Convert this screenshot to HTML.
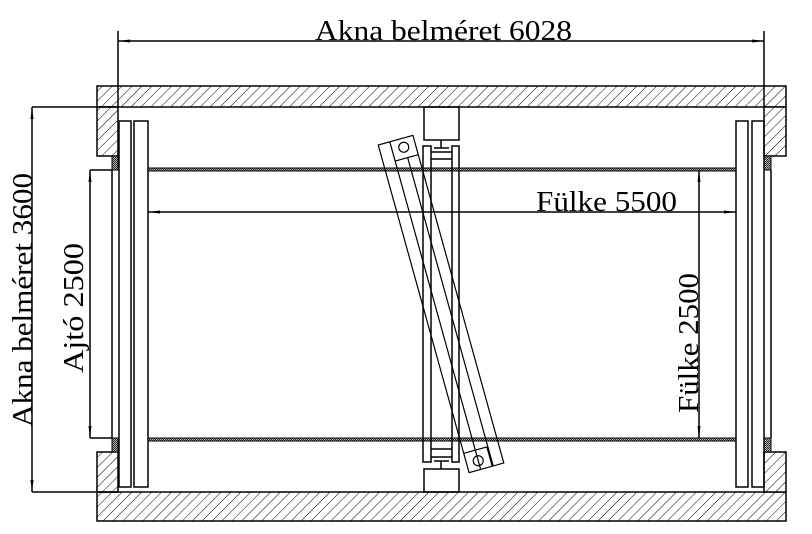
<!DOCTYPE html>
<html><head><meta charset="utf-8"><style>html,body{margin:0;padding:0;background:#fff}svg{display:block}text{font-family:"Liberation Serif",serif}</style></head>
<body>
<svg width="812" height="534" viewBox="0 0 812 534" xmlns="http://www.w3.org/2000/svg">
<defs>
<pattern id="h" width="7" height="7" patternUnits="userSpaceOnUse" patternTransform="rotate(45)">
<rect width="7" height="7" fill="#fff"/><line x1="0" y1="0" x2="0" y2="7" stroke="#000" stroke-width="1"/>
</pattern>
<pattern id="c" width="2" height="2" patternUnits="userSpaceOnUse">
<rect width="2" height="2" fill="#bbb"/><rect width="1" height="1" fill="#222"/><rect x="1" y="1" width="1" height="1" fill="#222"/>
</pattern>
</defs>
<g stroke="#000" stroke-width="1.5" fill="none">
<rect x="97" y="86" width="689" height="21" fill="url(#h)"/>
<rect x="97" y="492" width="689" height="29" fill="url(#h)"/>
<rect x="97" y="107" width="21" height="49" fill="url(#h)"/>
<rect x="764" y="107" width="22" height="49" fill="url(#h)"/>
<rect x="97" y="452" width="21" height="40" fill="url(#h)"/>
<rect x="764" y="452" width="22" height="40" fill="url(#h)"/>
<rect x="112" y="156" width="6" height="14" fill="url(#c)" stroke-width="1"/>
<rect x="764" y="156" width="7" height="14" fill="url(#c)" stroke-width="1"/>
<rect x="112" y="438" width="6" height="14" fill="url(#c)" stroke-width="1"/>
<rect x="764" y="438" width="7" height="14" fill="url(#c)" stroke-width="1"/>
<line x1="112" y1="170" x2="112" y2="438"/>
<line x1="771" y1="170" x2="771" y2="438"/>
<rect x="119" y="121" width="12" height="366"/>
<rect x="134" y="121" width="14" height="366"/>
<rect x="736" y="121" width="12" height="366"/>
<rect x="752" y="121" width="12" height="366"/>
<rect x="148" y="168" width="588" height="3" fill="url(#c)" stroke-width="1"/>
<rect x="148" y="438" width="588" height="3" fill="url(#c)" stroke-width="1"/>
<rect x="424" y="107" width="35" height="33"/>
<rect x="424" y="469" width="35" height="23"/>
<line x1="441" y1="140" x2="441" y2="148"/><line x1="434" y1="148" x2="449" y2="148"/>
<line x1="441" y1="469" x2="441" y2="461"/><line x1="434" y1="461" x2="449" y2="461"/>
<rect x="423" y="146" width="8" height="316"/>
<rect x="452" y="146" width="7" height="316"/>
<line x1="431" y1="152" x2="452" y2="152"/><line x1="431" y1="159" x2="452" y2="159"/>
<line x1="431" y1="449" x2="452" y2="449"/><line x1="431" y1="457" x2="452" y2="457"/>
<g transform="translate(441,304) rotate(-15.5)" stroke-width="1.2">
<rect x="-18" y="-170" width="36" height="340"/>
<line x1="-6" y1="-170" x2="-6" y2="170"/>
<line x1="7" y1="-150" x2="7" y2="170"/>
<line x1="-6" y1="-150" x2="18" y2="-150"/>
<line x1="-18" y1="150" x2="6" y2="150"/>
<line x1="6" y1="150" x2="6" y2="170"/>
<circle cx="6" cy="-161" r="5"/>
<circle cx="-6" cy="161" r="5"/>
</g>
<line x1="118" y1="41" x2="764" y2="41"/>
<line x1="118" y1="31" x2="118" y2="107"/>
<line x1="764" y1="31" x2="764" y2="107"/>
<line x1="32" y1="107" x2="118" y2="107"/>
<line x1="32" y1="492" x2="118" y2="492"/>
<line x1="32" y1="107" x2="32" y2="492"/>
<line x1="90" y1="170" x2="112" y2="170"/>
<line x1="90" y1="438" x2="112" y2="438"/>
<line x1="90" y1="170" x2="90" y2="438"/>
<line x1="148" y1="212" x2="736" y2="212"/>
<line x1="699" y1="170" x2="699" y2="438"/>
</g>
<g fill="#000">
<polygon points="118,41 130,39.5 130,42.5"/><polygon points="764,41 752,39.5 752,42.5"/>
<polygon points="32,107 30.5,119 33.5,119"/><polygon points="32,492 30.5,480 33.5,480"/>
<polygon points="90,170 88.5,182 91.5,182"/><polygon points="90,438 88.5,426 91.5,426"/>
<polygon points="148,212 160,210.5 160,213.5"/><polygon points="736,212 724,210.5 724,213.5"/>
<polygon points="699,170 697.5,182 700.5,182"/><polygon points="699,438 697.5,426 700.5,426"/>
</g>
<g font-family="'Liberation Serif', serif" font-size="28" fill="#000">
<text x="315" y="40" textLength="257" lengthAdjust="spacingAndGlyphs">Akna belméret 6028</text>
<text x="536" y="211" textLength="141" lengthAdjust="spacingAndGlyphs">Fülke 5500</text>
<text transform="translate(32,427) rotate(-90)" textLength="254" lengthAdjust="spacingAndGlyphs">Akna belméret 3600</text>
<text transform="translate(83,373) rotate(-90)" textLength="130" lengthAdjust="spacingAndGlyphs">Ajtó 2500</text>
<text transform="translate(698,413) rotate(-90)" textLength="140" lengthAdjust="spacingAndGlyphs">Fülke 2500</text>
</g>
</svg>
</body></html>
